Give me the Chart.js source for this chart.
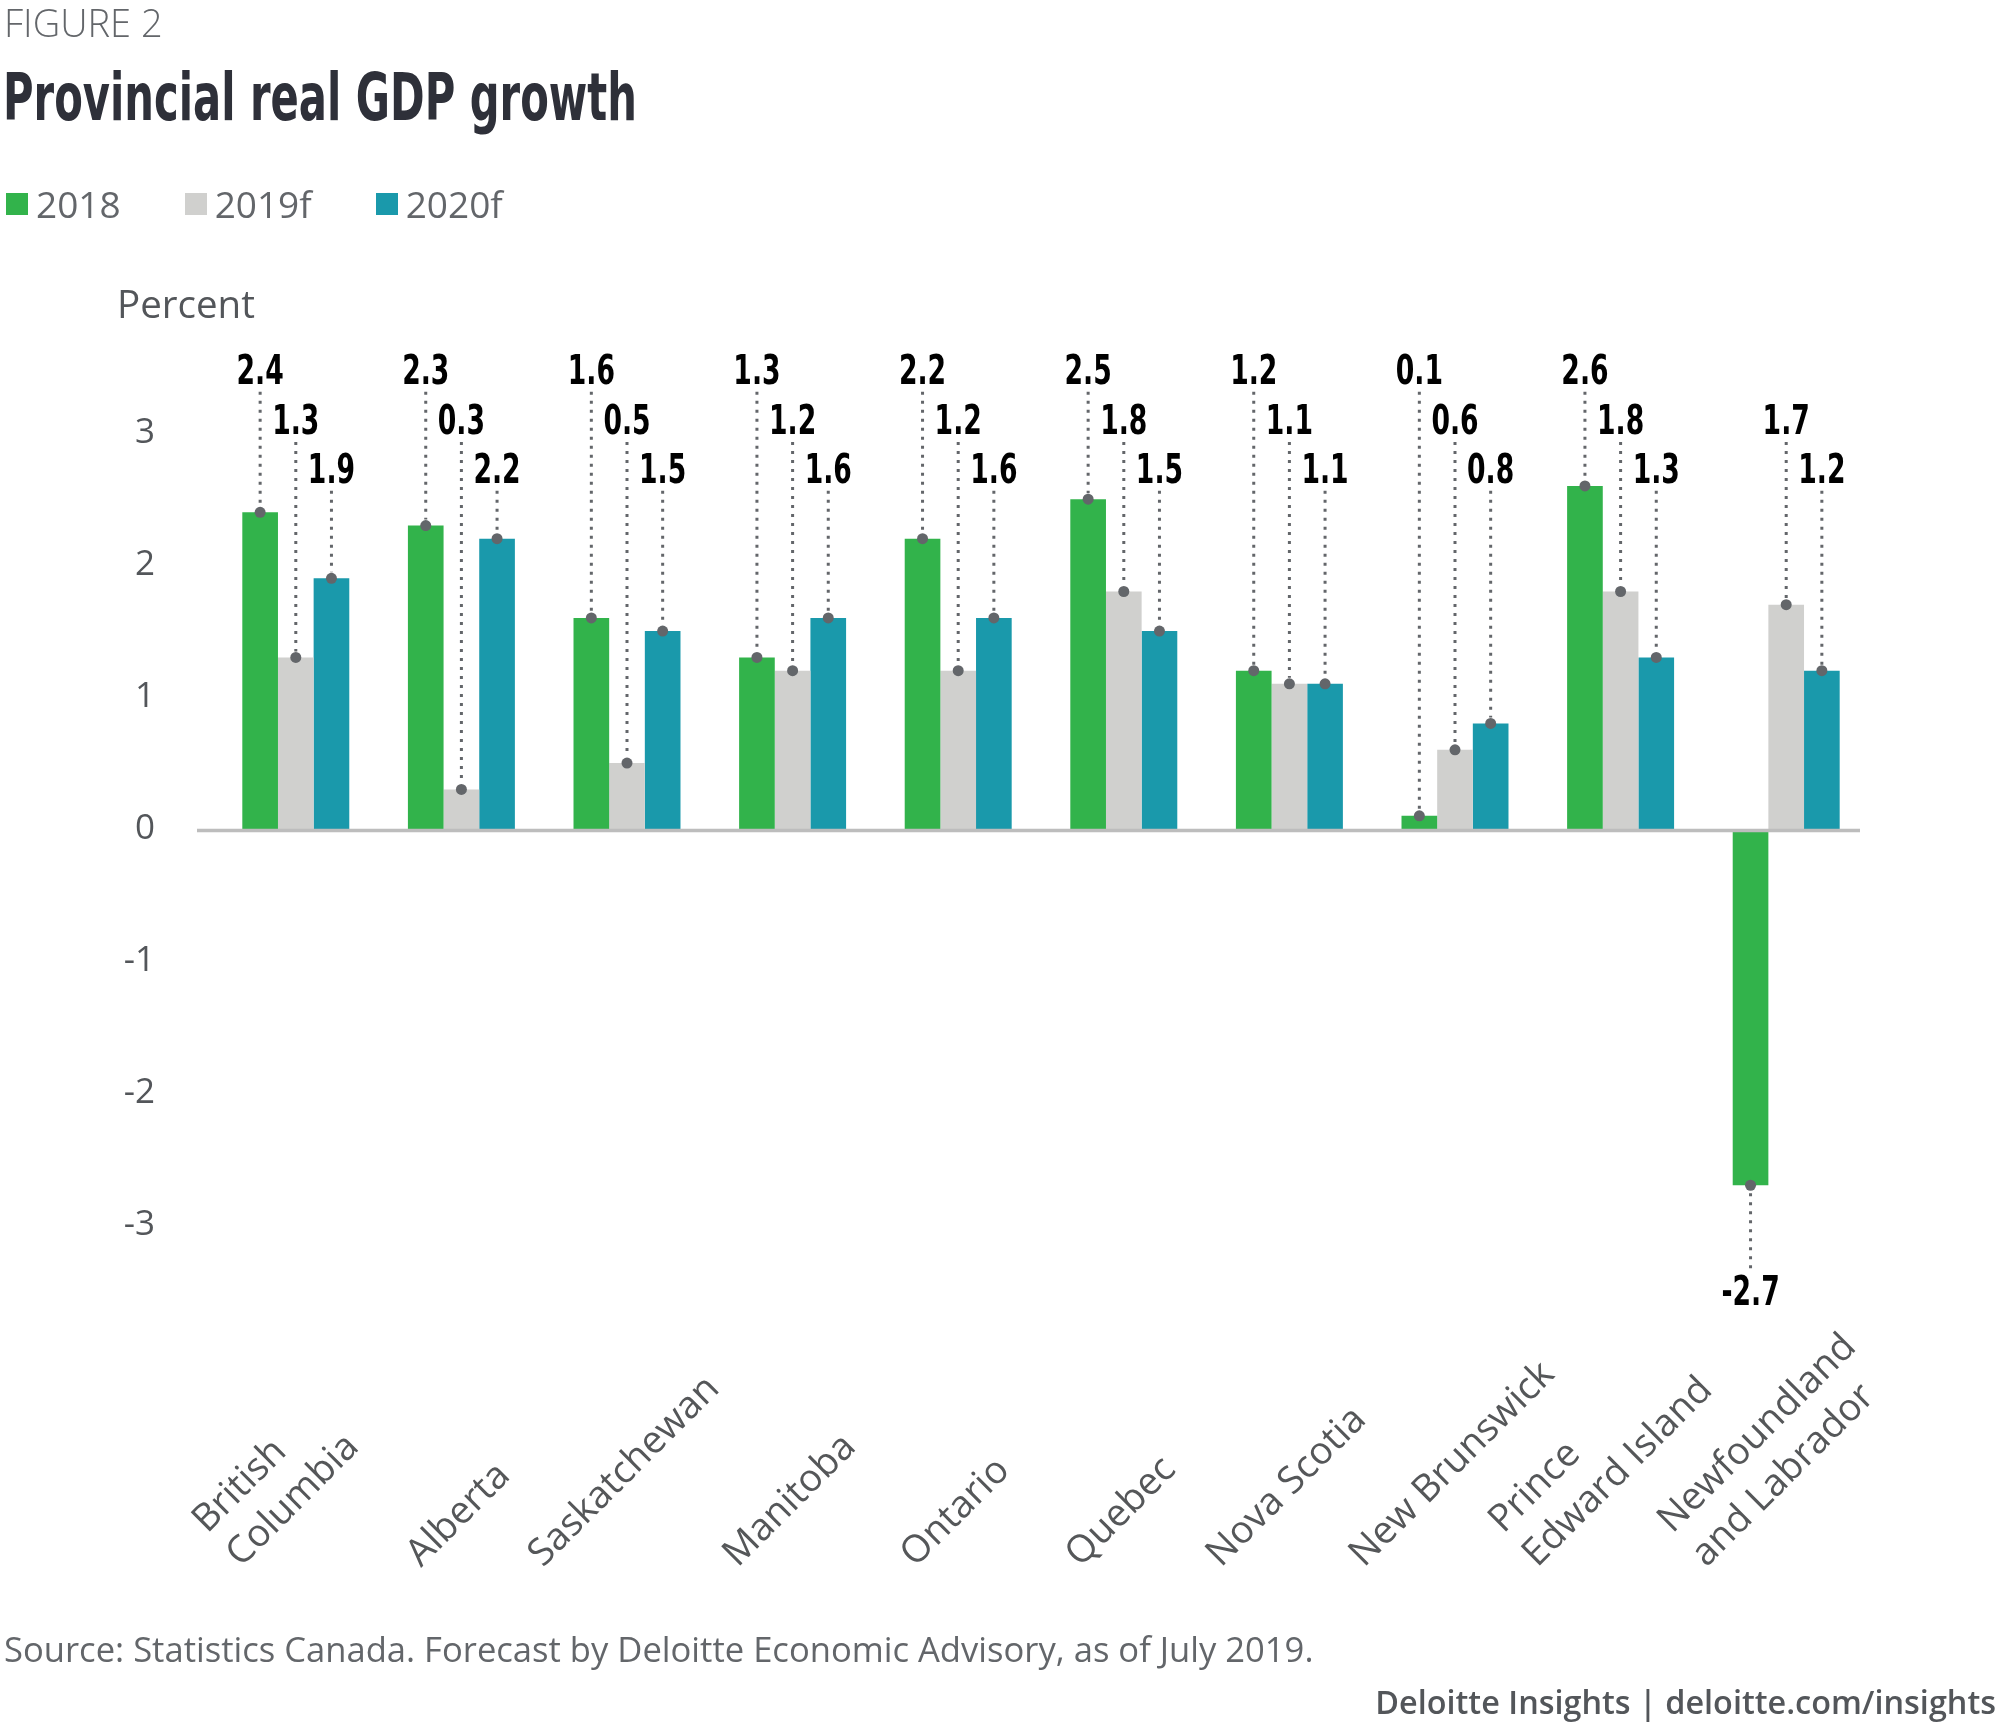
<!DOCTYPE html>
<html>
<head>
<meta charset="utf-8">
<title>Provincial real GDP growth</title>
<script src="https://cdn.jsdelivr.net/npm/chart.js@4.4.0/dist/chart.umd.min.js"></script>
<style>
  html, body { margin: 0; padding: 0; background: #fff; }
  body { width: 2000px; height: 1736px; position: relative; overflow: hidden; font-family: 'Open Sans', sans-serif; }
  .txt { position: absolute; line-height: 1; white-space: nowrap; z-index: 2; }
  #fig { left: 4px; top: 3px; font-size: 38px; font-weight: 300; color: #63666a; }
  #title { left: 3px; top: 65px; font-family: 'Liberation Sans Narrow', 'DejaVu Sans Condensed', 'Open Sans', sans-serif; font-weight: 700; font-size: 66px; color: #2e3039; transform-origin: 0 0; }
  #legend { left: 6px; top: 185px; font-size: 37px; color: #63666a; display: flex; align-items: center; }
  #legend .item { display: flex; align-items: center; margin-right: 64px; }
  #legend .sw { width: 22px; height: 22px; margin-right: 8px; }
  #unit { left: 117px; top: 284px; font-size: 38.5px; color: #53565a; }
  #source { left: 4px; top: 1632px; font-size: 34.6px; color: #63666a; }
  #credit { right: 4px; top: 1685px; font-size: 32.4px; font-weight: 600; color: #53565a; }
  canvas { position: absolute; left: 0; top: 0; z-index: 1; }
</style>
</head>
<body>
<div class="txt" id="fig">FIGURE 2</div>
<div class="txt" id="title">Provincial real GDP growth</div>
<div class="txt" id="legend"></div>
<div class="txt" id="unit">Percent</div>
<div class="txt" id="source">Source: Statistics Canada. Forecast by Deloitte Economic Advisory, as of July 2019.</div>
<div class="txt" id="credit">Deloitte Insights | deloitte.com/insights</div>
<canvas id="chartGdp" width="2000" height="1736"></canvas>

<script>
// data
const provinces = [
    ['British', 'Columbia'], ['Alberta'], ['Saskatchewan'], ['Manitoba'], ['Ontario'],
    ['Quebec'], ['Nova Scotia'], ['New Brunswick'], ['Prince', 'Edward Island'], ['Newfoundland', 'and Labrador']
];
const seriesNames = ['2018', '2019f', '2020f'];
const growth2018 = [2.4, 2.3, 1.6, 1.3, 2.2, 2.5, 1.2, 0.1, 2.6, -2.7];
const growth2019f = [1.3, 0.3, 0.5, 1.2, 1.2, 1.8, 1.1, 0.6, 1.8, 1.7];
const growth2020f = [1.9, 2.2, 1.5, 1.6, 1.6, 1.5, 1.1, 0.8, 1.3, 1.2];
const yTicks = [-3, -2, -1, 0, 1, 2, 3];

const seriesColors = ['#32b34b', '#d0d0ce', '#1a99ab'];
const narrowFont = '"Liberation Sans Narrow", "DejaVu Sans Condensed", "DejaVu Sans", sans-serif';

// ===== legend =====
const legendBox = document.getElementById('legend');
seriesNames.forEach((name, i) => {
    const item = document.createElement('div');
    item.className = 'item';
    item.innerHTML = '<span class="sw" style="background:' + seriesColors[i] + '"></span><span>' + name + '</span>';
    legendBox.appendChild(item);
});

// title is set in a condensed face in the original, squeeze to its width
const titleEl = document.getElementById('title');
const titleW = titleEl.getBoundingClientRect().width;
if (titleW > 0) titleEl.style.transform = 'scaleX(' + (634 / titleW) + ')';

// label rows above the bars (in axis units), one row per series
const rowLevels = [3.48, 3.1, 2.73];
const negLevel = -3.5;

const zeroLine = {
    id: 'zeroLine',
    afterDatasetsDraw(chart) {
        const ctx = chart.ctx;
        const y0 = chart.scales.y.getPixelForValue(0);
        ctx.save();
        ctx.strokeStyle = '#bdbdbd';
        ctx.lineWidth = 3.5;
        ctx.beginPath();
        ctx.moveTo(chart.chartArea.left - 16, y0 + 1.5);
        ctx.lineTo(chart.chartArea.right - 9, y0 + 1.5);
        ctx.stroke();
        ctx.restore();
    }
};

const valueLabels = {
    id: 'valueLabels',
    afterDatasetsDraw(chart) {
        const ctx = chart.ctx;
        const yScale = chart.scales.y;
        chart.data.datasets.forEach((ds, d) => {
            chart.getDatasetMeta(d).data.forEach((bar, i) => {
                const v = ds.data[i];
                const neg = v < 0;
                const ly = yScale.getPixelForValue(neg ? negLevel : rowLevels[d]);
                const by = yScale.getPixelForValue(v);
                ctx.save();
                ctx.strokeStyle = '#63666a';
                ctx.lineWidth = 3;
                ctx.setLineDash([3, 6]);
                ctx.beginPath();
                if (neg) {
                    ctx.moveTo(bar.x, by + 8);
                    ctx.lineTo(bar.x, ly - 20);
                } else {
                    ctx.moveTo(bar.x, ly + 22);
                    ctx.lineTo(bar.x, by - 6);
                }
                ctx.stroke();
                ctx.setLineDash([]);
                ctx.fillStyle = '#63666a';
                ctx.beginPath();
                ctx.arc(bar.x, by, 5.5, 0, Math.PI * 2);
                ctx.fill();
                // condensed look: squeeze the bold face horizontally
                ctx.translate(bar.x, ly + 14);
                ctx.scale(0.74, 1);
                ctx.fillStyle = '#000';
                ctx.font = 'bold 40px ' + narrowFont;
                ctx.textAlign = 'center';
                ctx.textBaseline = 'alphabetic';
                ctx.fillText(v.toFixed(1), 0, 0);
                ctx.restore();
            });
        });
    }
};

// rotated province names, lines left aligned, bottoms on one level
const provinceLabels = {
    id: 'provinceLabels',
    afterDraw(chart) {
        const ctx = chart.ctx;
        const xScale = chart.scales.x;
        const baseY = chart.chartArea.bottom + 264;
        const lh = 48;
        ctx.save();
        ctx.font = '38px "Open Sans", sans-serif';
        ctx.fillStyle = '#555759';
        ctx.textAlign = 'left';
        ctx.textBaseline = 'alphabetic';
        provinces.forEach((lines, i) => {
            const tx = xScale.getPixelForValue(i);
            const wLast = ctx.measureText(lines[lines.length - 1]).width;
            const x0 = tx - wLast * Math.SQRT1_2 / 2 + 5;
            ctx.save();
            ctx.translate(x0, baseY);
            ctx.rotate(-Math.PI / 4);
            lines.forEach((line, k) => {
                ctx.fillText(line, 0, -(lines.length - 1 - k) * lh);
            });
            ctx.restore();
        });
        ctx.restore();
    }
};

new Chart(document.getElementById('chartGdp'), {
    type: 'bar',
    data: {
        labels: provinces,
        datasets: [
            { label: seriesNames[0], data: growth2018, backgroundColor: seriesColors[0] },
            { label: seriesNames[1], data: growth2019f, backgroundColor: seriesColors[1] },
            { label: seriesNames[2], data: growth2020f, backgroundColor: seriesColors[2] }
        ]
    },
    options: {
        responsive: false,
        animation: false,
        devicePixelRatio: 1,
        layout: { padding: { left: 113, right: 131, top: 354, bottom: 432 } },
        datasets: {
            bar: { categoryPercentage: 0.646, barPercentage: 1, borderWidth: 0 }
        },
        plugins: {
            legend: { display: false },
            tooltip: { enabled: false }
        },
        scales: {
            x: { display: false },
            y: {
                min: -3.6,
                max: 3.6,
                afterBuildTicks(scale) {
                    scale.ticks = yTicks.map(v => ({ value: v }));
                },
                afterFit(scale) {
                    scale.width = 100;
                },
                grid: { display: false },
                border: { display: false },
                ticks: {
                    padding: 50,
                    color: '#53565a',
                    font: { family: 'Open Sans', size: 35 }
                }
            }
        }
    },
    plugins: [zeroLine, valueLabels, provinceLabels]
});
</script>
</body>
</html>
